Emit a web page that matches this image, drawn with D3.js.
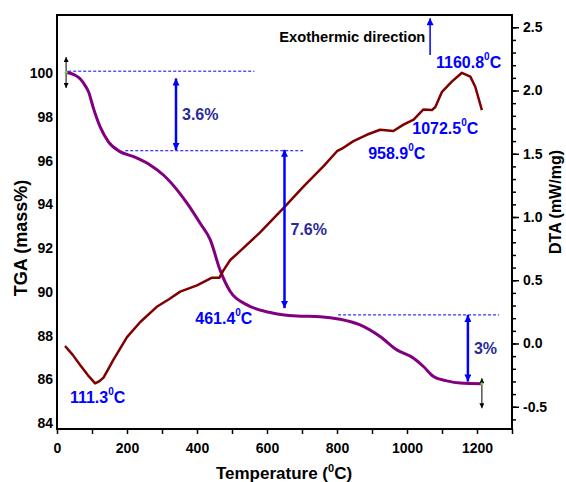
<!DOCTYPE html>
<html>
<head>
<meta charset="utf-8">
<script src="https://cdn.jsdelivr.net/npm/d3@7"></script>
<style>
  body { margin: 0; background: #fff; }
  svg { font-family: "Liberation Sans", Arial, sans-serif; font-weight: bold; }
</style>
</head>
<body>
<div id="chart"></div>
<script>
// TGA / DTA curves
const tgaTemp = [26, 50, 66, 80, 90, 104, 123, 147, 180, 219, 266, 304, 343, 371, 409, 438, 466, 495, 543, 609, 685, 752, 809, 866, 923, 971, 1019, 1047, 1076, 1114, 1152, 1214];
const tgaMass = [100.05, 99.93, 99.75, 99.45, 99.16, 98.41, 97.56, 96.87, 96.42, 96.19, 95.81, 95.35, 94.67, 94.07, 93.14, 92.38, 91.0, 90.02, 89.41, 89.06, 88.9, 88.87, 88.75, 88.49, 87.96, 87.35, 86.97, 86.59, 86.13, 85.93, 85.83, 85.8];

const dtaTemp = [23, 45, 66, 88, 109, 120, 133, 161, 200, 238, 285, 320, 352, 400, 443, 464, 476, 495, 523, 581, 647, 704, 761, 800, 814, 847, 885, 923, 961, 990, 1019, 1047, 1071, 1081, 1100, 1128, 1157, 1181, 1195, 1214];
const dtaVal = [-0.02, -0.09, -0.17, -0.25, -0.315, -0.30, -0.27, -0.13, 0.05, 0.17, 0.29, 0.35, 0.41, 0.46, 0.52, 0.52, 0.58, 0.66, 0.73, 0.88, 1.07, 1.24, 1.40, 1.52, 1.54, 1.60, 1.65, 1.69, 1.68, 1.73, 1.77, 1.85, 1.845, 1.87, 1.99, 2.07, 2.14, 2.11, 2.03, 1.845];

// tick labels
const xTicks = [0, 200, 400, 600, 800, 1000, 1200];
const leftTicks = [84, 86, 88, 90, 92, 94, 96, 98, 100];
const rightTicks = [-0.5, 0.0, 0.5, 1.0, 1.5, 2.0, 2.5];

// annotations (in data units)
const peakNames = ["111.3", "461.4", "958.9", "1072.5", "1160.8"];
const peakAt = [[37, -0.47], [395, 0.153], [889, 1.458], [1015, 1.656], [1083, 2.177]];
const stepNames = ["3.6%", "7.6%", "3%"];
const stepTemp = [340, 650, 1174];
const stepFrom = [99.77, 96.5, 88.95];
const stepTo = [96.49, 89.26, 85.9];
const dashTemp = [[32, 564], [195, 703], [803, 1263]];
const dashMass = [100.1, 96.46, 88.95];

const width = 566;
const height = 482;
const margin = {left: 57, right: 54, top: 15, bottom: 53};

const svg = d3.select("#chart").append("svg")
  .attr("width", width)
  .attr("height", height);

const x = d3.scaleLinear().domain([0, 1300]).range([margin.left, width - margin.right]);
const yL = d3.scaleLinear().domain([83.73, 102.67]).range([height - margin.bottom, margin.top]);
const yR = d3.scaleLinear().domain([-0.676, 2.597]).range([height - margin.bottom, margin.top]);

// markers
const defs = svg.append("defs");
function marker(id, color, w, h) {
  defs.append("marker")
    .attr("id", id)
    .attr("viewBox", "0 0 10 10")
    .attr("refX", 10).attr("refY", 5)
    .attr("markerUnits", "userSpaceOnUse")
    .attr("markerWidth", w).attr("markerHeight", h)
    .attr("orient", "auto-start-reverse")
    .append("path")
    .attr("d", "M0,0 L10,5 L0,10 z")
    .attr("fill", color);
}
marker("blueHead", "#0000ff", 11, 7);
marker("blackHead", "#000", 6, 5);

// axes
const bottom = svg.append("g")
  .attr("transform", `translate(0,${height - margin.bottom})`)
  .call(d3.axisBottom(x).tickValues(d3.range(0, 1301, 100)).tickSize(5).tickPadding(9)
    .tickFormat(d => xTicks.includes(d) ? d : ""));

const left = svg.append("g")
  .attr("transform", `translate(${margin.left},0)`)
  .call(d3.axisLeft(yL).tickValues(leftTicks).tickSize(0).tickPadding(4));

const rightMinor = svg.append("g")
  .attr("transform", `translate(${width - margin.right},0)`)
  .call(d3.axisRight(yR).tickValues(d3.range(-6, 26).map(d => d / 10)).tickSize(4).tickFormat(""));

const right = svg.append("g")
  .attr("transform", `translate(${width - margin.right},0)`)
  .call(d3.axisRight(yR).tickValues(rightTicks).tickSize(7).tickPadding(4)
    .tickFormat(d => d3.format(".1f")(d).replace("\u2212", "-")));

[bottom, left, rightMinor, right].forEach(g => {
  g.select(".domain").remove();
  g.selectAll("line").attr("stroke", "#000").attr("stroke-width", 1.5);
  g.selectAll("text").attr("font-size", "14px").attr("fill", "#000")
    .attr("font-family", "Liberation Sans, Arial, sans-serif").attr("font-weight", "bold");
});

// frame
svg.append("rect")
  .attr("x", margin.left).attr("y", margin.top)
  .attr("width", width - margin.left - margin.right)
  .attr("height", height - margin.top - margin.bottom)
  .attr("fill", "none").attr("stroke", "#000").attr("stroke-width", 2);

// axis titles
svg.append("text")
  .attr("x", 284).attr("y", 479)
  .attr("text-anchor", "middle").attr("font-size", "17px")
  .call(t => {
    t.append("tspan").text("Temperature (");
    t.append("tspan").attr("font-size", "11px").attr("dy", -7).text("0");
    t.append("tspan").attr("dy", 7).text("C)");
  });

svg.append("text")
  .attr("transform", "translate(27,238) rotate(-90)")
  .attr("text-anchor", "middle").attr("font-size", "18px")
  .text("TGA (mass%)");

svg.append("text")
  .attr("transform", "translate(561,202) rotate(-90)")
  .attr("text-anchor", "middle").attr("font-size", "16px")
  .text("DTA (mW/mg)");

// dashed guide lines
dashMass.forEach((v, i) => {
  svg.append("line")
    .attr("x1", x(dashTemp[i][0])).attr("x2", x(dashTemp[i][1]))
    .attr("y1", yL(v)).attr("y2", yL(v))
    .attr("stroke", "#0000ff").attr("stroke-width", 1)
    .attr("stroke-dasharray", "3,2");
});

// curves
svg.append("path")
  .datum(tgaTemp.map((t, i) => [t, tgaMass[i]]))
  .attr("fill", "none").attr("stroke", "#800080").attr("stroke-width", 3)
  .attr("d", d3.line().x(d => x(d[0])).y(d => yL(d[1])).curve(d3.curveMonotoneX));

svg.append("path")
  .datum(dtaTemp.map((t, i) => [t, dtaVal[i]]))
  .attr("fill", "none").attr("stroke", "#800000").attr("stroke-width", 2.5)
  .attr("stroke-linejoin", "round")
  .attr("d", d3.line().x(d => x(d[0])).y(d => yR(d[1])));

// mass loss arrows
stepNames.forEach((s, i) => {
  svg.append("line")
    .attr("x1", x(stepTemp[i])).attr("x2", x(stepTemp[i]))
    .attr("y1", yL(stepFrom[i])).attr("y2", yL(stepTo[i]))
    .attr("stroke", "#0000ff").attr("stroke-width", 2.5)
    .attr("marker-start", "url(#blueHead)").attr("marker-end", "url(#blueHead)");
  svg.append("text")
    .attr("x", x(stepTemp[i]) + 6)
    .attr("y", (yL(stepFrom[i]) + yL(stepTo[i])) / 2 + 6)
    .attr("font-size", "16px").attr("fill", "#2b2b9a")
    .text(s);
});

// start / end markers
const ends = [[tgaTemp[0], 100.745, 99.33], [tgaTemp[tgaTemp.length - 1], 86.05, 84.68]];
ends.forEach(e => {
  svg.append("line")
    .attr("x1", x(e[0])).attr("x2", x(e[0]))
    .attr("y1", yL(e[1])).attr("y2", yL(e[2]))
    .attr("stroke", "#000").attr("stroke-width", 1)
    .attr("marker-start", "url(#blackHead)").attr("marker-end", "url(#blackHead)");
});
[[tgaTemp[0], tgaMass[0]], [tgaTemp[tgaTemp.length - 1], tgaMass[tgaMass.length - 1]]].forEach(p => {
  svg.append("circle").attr("cx", x(p[0])).attr("cy", yL(p[1])).attr("r", 1.5).attr("fill", "#66dd44");
});

// peak labels
peakNames.forEach((s, i) => {
  svg.append("text")
    .attr("x", x(peakAt[i][0])).attr("y", yR(peakAt[i][1]))
    .attr("font-size", "16px").attr("fill", "#0000ff")
    .call(t => {
      t.append("tspan").text(s);
      t.append("tspan").attr("font-size", "10px").attr("dy", -8).text("0");
      t.append("tspan").attr("dy", 8).text("C");
    });
});

// exothermic direction
svg.append("text")
  .attr("x", x(635)).attr("y", yR(2.383))
  .attr("font-size", "14.7px").attr("fill", "#000")
  .text("Exothermic direction");

svg.append("line")
  .attr("x1", x(1066)).attr("x2", x(1066))
  .attr("y1", yR(2.28)).attr("y2", yR(2.572))
  .attr("stroke", "#0000ff").attr("stroke-width", 1.5)
  .attr("marker-end", "url(#blueHead)");
</script>
</body>
</html>
